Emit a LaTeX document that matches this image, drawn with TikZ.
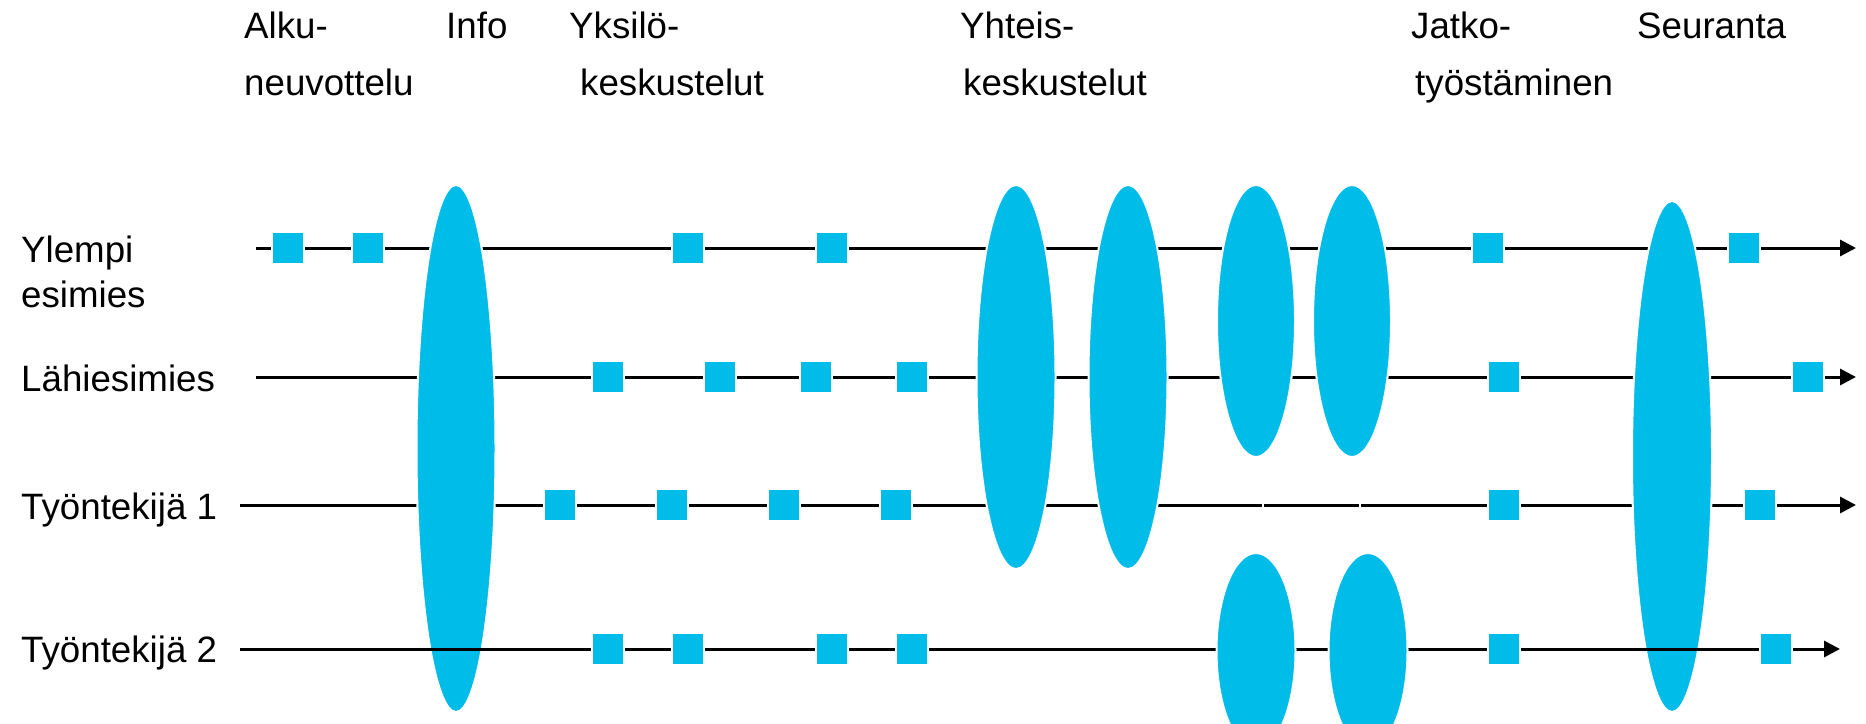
\documentclass[tikz,border=0pt]{standalone}
\usepackage{fontspec}
\setmainfont{Liberation Sans}
\usetikzlibrary{shapes.geometric,arrows.meta}
\definecolor{cyanfill}{HTML}{00BCE8}
\tikzset{
  lbl/.style={inner sep=0pt, anchor=base west, font=\fontsize{36.7}{44}\selectfont},
  lane/.style={line width=3pt, draw=black, -{Triangle[length=16pt,width=16pt]}},
  sq/.style={rectangle, fill=cyanfill, draw=white, line width=2pt, minimum size=32pt, inner sep=0pt},
  ell/.style={ellipse, fill=cyanfill, draw=white, line width=2pt, inner sep=0pt},
  nick/.style={draw=white, line width=2pt}
}
\begin{document}
\begin{tikzpicture}[x=1pt,y=-1pt]
\useasboundingbox (0,0) rectangle (1866,723);
% header labels
\node[lbl] (t1a) at (244,38) {Alku-};
\node[lbl] (t1b) at (244,95) {neuvottelu};
\node[lbl] (t2) at (446,38) {Info};
\node[lbl] (t3a) at (569,38) {Yksilö-};
\node[lbl] (t3b) at (580,95) {keskustelut};
\node[lbl] (t4a) at (960,38) {Yhteis-};
\node[lbl] (t4b) at (963,95) {keskustelut};
\node[lbl] (t5a) at (1411,38) {Jatko-};
\node[lbl] (t5b) at (1415,95) {työstäminen};
\node[lbl] (t6) at (1637,38) {Seuranta};
% row labels
\node[lbl] (r1a) at (21,262) {Ylempi};
\node[lbl] (r1b) at (21,307) {esimies};
\node[lbl] (r2) at (21,391) {Lähiesimies};
\node[lbl] (r3) at (21,519) {Työntekijä 1};
\node[lbl] (r4) at (21,662) {Työntekijä 2};
% lane end points
\coordinate (y0) at (256,248); \coordinate (y1) at (1856,248);
\coordinate (l0) at (256,377); \coordinate (l1) at (1856,377);
\coordinate (a0) at (240,505); \coordinate (a1) at (1856,505);
\coordinate (b0) at (240,649); \coordinate (b1) at (1840,649);
\draw[lane] (y0) -- (y1);
\draw[lane] (l0) -- (l1);
\draw[lane] (a0) -- (a1);
% small breaks in the Työntekijä 1 lane
\coordinate (n1a) at (1263,498); \coordinate (n1b) at (1263,512);
\coordinate (n2a) at (1360,498); \coordinate (n2b) at (1360,512);
\draw[nick] (n1a) -- (n1b);
\draw[nick] (n2a) -- (n2b);
% big ellipses spanning all lanes
\node[ell, minimum width=79pt, minimum height=527pt] (info) at (456,448.5) {};
\node[ell, minimum width=80pt, minimum height=511pt] (seur) at (1672,456.5) {};
\draw[lane] (b0) -- (b1);
% joint discussions
\node[ell, minimum width=79pt, minimum height=384pt] (e1) at (1016,377) {};
\node[ell, minimum width=79pt, minimum height=384pt] (e2) at (1128,377) {};
\node[ell, minimum width=78pt, minimum height=272pt] (e3) at (1256,321) {};
\node[ell, minimum width=78pt, minimum height=272pt] (e4) at (1352,321) {};
\node[ell, minimum width=79pt, minimum height=196pt] (e5) at (1256,651) {};
\node[ell, minimum width=79pt, minimum height=196pt] (e6) at (1368,651) {};
% squares: Ylempi esimies
\node[sq] (y-1) at (288,248) {};
\node[sq] (y-2) at (368,248) {};
\node[sq] (y-3) at (688,248) {};
\node[sq] (y-4) at (832,248) {};
\node[sq] (y-5) at (1488,248) {};
\node[sq] (y-6) at (1744,248) {};
% Lähiesimies
\node[sq] (l-1) at (608,377) {};
\node[sq] (l-2) at (720,377) {};
\node[sq] (l-3) at (816,377) {};
\node[sq] (l-4) at (912,377) {};
\node[sq] (l-5) at (1504,377) {};
\node[sq] (l-6) at (1808,377) {};
% Työntekijä 1
\node[sq] (a-1) at (560,505) {};
\node[sq] (a-2) at (672,505) {};
\node[sq] (a-3) at (784,505) {};
\node[sq] (a-4) at (896,505) {};
\node[sq] (a-5) at (1504,505) {};
\node[sq] (a-6) at (1760,505) {};
% Työntekijä 2
\node[sq] (b-1) at (608,649) {};
\node[sq] (b-2) at (688,649) {};
\node[sq] (b-3) at (832,649) {};
\node[sq] (b-4) at (912,649) {};
\node[sq] (b-5) at (1504,649) {};
\node[sq] (b-6) at (1776,649) {};
\end{tikzpicture}
\end{document}
